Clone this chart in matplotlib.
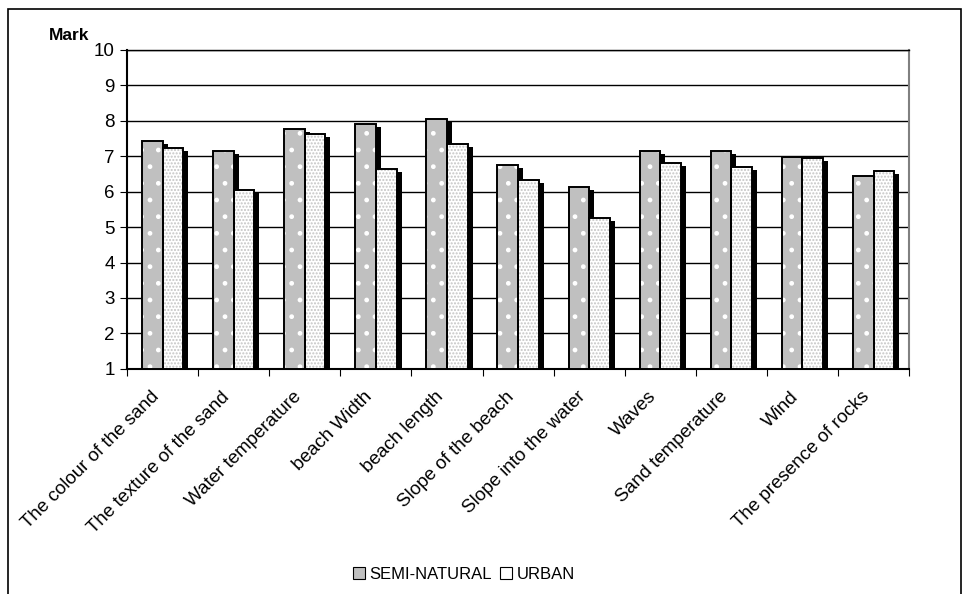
import numpy as np
import matplotlib.pyplot as plt
import matplotlib.transforms as mtransforms
from matplotlib.patches import Patch, Rectangle

plt.rcParams['font.family'] = ['Liberation Sans', 'DejaVu Sans']
plt.rcParams['hatch.linewidth'] = 1.0

categories = ['The colour of the sand', 'The texture of the sand', 'Water temperature',
              'beach Width', 'beach length', 'Slope of the beach', 'Slope into the water',
              'Waves', 'Sand temperature', 'Wind', 'The presence of rocks']
semi_natural = [7.42, 7.14, 7.76, 7.90, 8.05, 6.76, 6.13, 7.14, 7.14, 6.99, 6.43]
urban = [7.23, 6.04, 7.62, 6.65, 7.34, 6.32, 5.27, 6.80, 6.71, 6.94, 6.57]

fig = plt.figure(figsize=(9.63, 5.94), dpi=100)
ax = fig.add_axes([0.132, 0.379, 0.812, 0.537])

x = np.arange(len(categories))
w = 0.29
base = 1
dx, dy = 0.07, 0.085

series = [
    (x - w / 2, semi_natural, '#c0c0c0', 'white', '.'),
    (x + w / 2, urban, 'white', '#c4c4c4', '.....'),
]

# drop shadows first, then the hatched bars, then the outlines on top
for pos, vals, fc, hc, hatch in series:
    v = np.array(vals)
    ax.bar(pos + dx, v - dy - base, w, bottom=base, color='black', lw=0, zorder=2)
for pos, vals, fc, hc, hatch in series:
    v = np.array(vals)
    ax.bar(pos, v - base, w, bottom=base, facecolor=fc, edgecolor=hc, hatch=hatch,
           lw=0, zorder=3)
    ax.bar(pos, v - base, w, bottom=base, fill=False, edgecolor='black', lw=1.4, zorder=4)

ax.set_ylim(1, 10)
ax.set_xlim(-0.5, len(categories) - 0.5)
ax.set_yticks(range(1, 11))
ax.yaxis.grid(True, color='black', lw=1)
ax.set_axisbelow(True)

ax.set_xticks(np.arange(len(categories) + 1) - 0.5, minor=False)
ax.set_xticklabels([])
ax.set_xticks(x, minor=True)
ax.set_xticklabels(categories, minor=True, rotation=45, ha='right',
                   rotation_mode='anchor', fontsize=13.5)
ax.tick_params(axis='x', which='minor', length=0, pad=14)
ax.tick_params(axis='x', which='major', direction='out', length=5, color='black')
ax.tick_params(axis='y', direction='out', length=5, labelsize=13.5, pad=4)

# nudge the slanted category labels a little to the left
shift = mtransforms.ScaledTranslation(-9 / 72, 0, fig.dpi_scale_trans)
for lbl in ax.get_xticklabels(minor=True):
    lbl.set_transform(lbl.get_transform() + shift)

for s in ['left', 'bottom']:
    ax.spines[s].set_linewidth(1.5)
ax.spines['top'].set_linewidth(1)
ax.spines['right'].set_color('#808080')
ax.spines['right'].set_linewidth(1.5)

fig.text(0.051, 0.927, 'Mark', fontsize=12.5, fontweight='bold', ha='left', va='bottom')

handles = [Patch(facecolor='#c0c0c0', edgecolor='black', lw=0.8),
           Patch(facecolor='white', edgecolor='black', lw=0.8)]
fig.legend(handles, ['SEMI-NATURAL', 'URBAN'], loc='center', bbox_to_anchor=(0.482, 0.033),
           ncol=2, frameon=False, fontsize=12, handlelength=0.7, handleheight=0.7,
           handletextpad=0.3, columnspacing=0.5)

fig.patches.append(Rectangle((0.008, -0.01), 0.99, 0.995, transform=fig.transFigure,
                             fill=False, edgecolor='black', lw=1.2))

fig.savefig('out.png', dpi=100)
